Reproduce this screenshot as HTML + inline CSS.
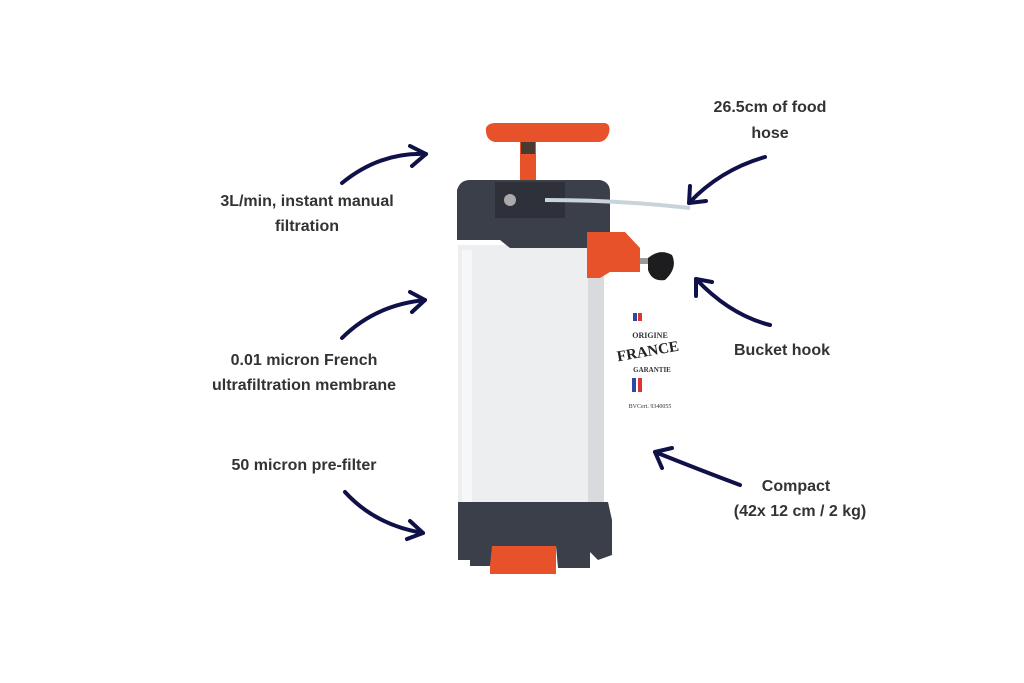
<!DOCTYPE html>
<html><head><meta charset="utf-8"><style>
html,body{margin:0;padding:0;background:#fff;}
svg{display:block}
text{font-family:"Liberation Sans",sans-serif;font-weight:bold;font-size:16px;fill:#333;}
</style></head><body>
<svg width="1024" height="683" viewBox="0 0 1024 683" xmlns="http://www.w3.org/2000/svg">
<g text-anchor="middle">
<text x="307" y="206">3L/min, instant manual</text>
<text x="307" y="231">filtration</text>
<text x="770" y="112">26.5cm of food</text>
<text x="770" y="138">hose</text>
<text x="782" y="355">Bucket hook</text>
<text x="304" y="365">0.01 micron French</text>
<text x="304" y="390">ultrafiltration membrane</text>
<text x="304" y="470">50 micron pre-filter</text>
<text x="796" y="491">Compact</text>
<text x="800" y="516">(42x 12 cm / 2 kg)</text>
</g>
<g fill="none" stroke="#0f1148" stroke-width="4" stroke-linecap="round" stroke-linejoin="round">
<path d="M342 183 Q380 152 426 154"/><path d="M410 146 L426 154 L412 166"/>
<path d="M765 157 Q720 170 689 203"/><path d="M690 186 L689 203 L706 201"/>
<path d="M770 325 Q730 315 696 279"/><path d="M696 296 L696 279 L712 282"/>
<path d="M342 338 Q375 305 425 300"/><path d="M410 292 L425 300 L412 312"/>
<path d="M345 492 Q375 525 423 533"/><path d="M410 521 L423 533 L407 539"/>
<path d="M740 485 Q700 470 655 452"/><path d="M662 468 L655 452 L672 448"/>
</g>
<!-- body -->
<rect x="458" y="245" width="146" height="265" fill="#eceef0"/>
<rect x="588" y="245" width="16" height="265" fill="#d8dadd"/>
<rect x="462" y="250" width="10" height="255" fill="#f6f7f8"/>
<!-- handle -->
<path d="M486 128 Q488 123 495 123 L605 123 Q611 124 609 133 Q606 142 598 142 L495 142 Q485 140 486 128Z" fill="#e8522b"/>
<rect x="520" y="140" width="16" height="44" fill="#e8522b"/>
<rect x="521" y="142" width="14" height="12" fill="#4a3a30"/>
<!-- top cap -->
<path d="M457 190 Q460 180 470 180 L600 180 Q610 182 610 192 L610 232 L590 232 L590 248 L510 248 L500 240 L457 240Z" fill="#3b3f4a"/>
<rect x="495" y="182" width="70" height="36" fill="#2e313a"/>
<circle cx="510" cy="200" r="6" fill="#aaa"/>
<path d="M545 200 Q620 200 690 208" stroke="#c9d4da" stroke-width="4" fill="none"/>
<!-- hook -->
<path d="M587 232 L625 232 L640 248 L640 272 L610 272 L600 278 L587 278Z" fill="#e8522b"/>
<rect x="640" y="258" width="12" height="6" fill="#999"/>
<path d="M648 258 Q660 248 672 255 Q678 268 665 280 Q652 282 648 270Z" fill="#1d1d1f"/>
<!-- base -->
<rect x="490" y="540" width="66" height="34" fill="#e8522b"/>
<path d="M458 502 L608 502 L612 520 L612 555 L598 560 L590 552 L590 568 L558 568 L556 546 L492 546 L490 566 L470 566 L470 560 L458 560Z" fill="#3b3f4a"/>
<!-- logo -->
<g text-anchor="middle">
<rect x="633" y="313" width="4" height="8" fill="#2a4aa8"/><rect x="638" y="313" width="4" height="8" fill="#d33"/>
<text x="650" y="338" style="font-size:8px;font-family:'Liberation Serif',serif">ORIGINE</text>
<text x="648" y="356" style="font-size:15px;font-family:'Liberation Serif',serif;fill:#222" transform="rotate(-10 648 352)">FRANCE</text>
<text x="652" y="372" style="font-size:7px;font-family:'Liberation Serif',serif">GARANTIE</text>
<rect x="632" y="378" width="4" height="14" fill="#2a4aa8"/><rect x="638" y="378" width="4" height="14" fill="#d33"/>
<text x="650" y="408" style="font-size:6px;font-weight:normal;font-family:'Liberation Serif',serif">BVCert. 9340055</text>
</g>
</svg>
</body></html>
